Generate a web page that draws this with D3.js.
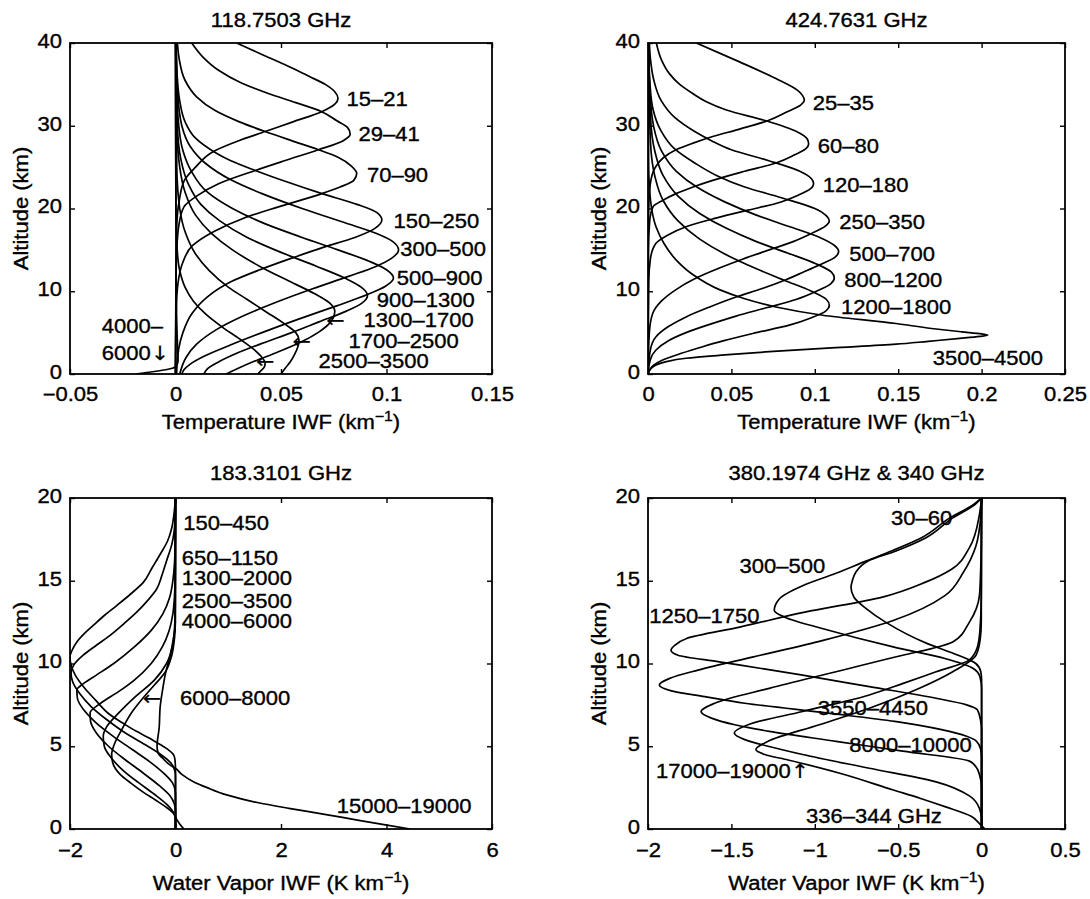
<!DOCTYPE html>
<html>
<head>
<meta charset="utf-8">
<script src="https://cdn.jsdelivr.net/npm/d3@7"></script>
<style>
  body { margin: 0; background: #fff; }
  svg text { font-family: "Liberation Sans", Arial, Helvetica, sans-serif; font-size: 19.5px; fill: #000; stroke: #000; stroke-width: 0.35px; }
  svg text .arrow { font-family: "DejaVu Sans", sans-serif; stroke-width: 0.2px; }
</style>
</head>
<body>
<svg id="fig" width="1090" height="899"></svg>
<script>
// ---------------------------------------------------------------
// Incremental weighting functions, [altitude km, IWF value]
// ---------------------------------------------------------------
const panelTitles = ["118.7503 GHz", "424.7631 GHz", "183.3101 GHz", "380.1974 GHz & 340 GHz"];

const xTicks118 = [-0.05, 0, 0.05, 0.1, 0.15];
const xTicks424 = [0, 0.05, 0.1, 0.15, 0.2, 0.25];
const xTicks183 = [-2, 0, 2, 4, 6];
const xTicks380 = [-2, -1.5, -1, -0.5, 0, 0.5];
const altTicks40 = [0, 10, 20, 30, 40];
const altTicks20 = [0, 5, 10, 15, 20];

// 118.7503 GHz temperature IWF (km^-1)
const t118_15_21 = [[0,0],[14,0.0003],[18,0.0006],[21,0.0018],[23.4,0.0042],[25,0.0095],[26.9,0.018],[28.1,0.029],[29.3,0.0425],[30.5,0.056],[31.7,0.0693],[32.6,0.0755],[33.3,0.077],[34.1,0.0755],[35,0.071],[36,0.063],[37,0.055],[38.5,0.042],[40,0.029]];
const t118_29_41 = [[0,0],[12,0.0003],[15,0.0006],[18,0.0016],[20.2,0.004],[21.5,0.010],[23,0.0204],[24.6,0.0378],[25.8,0.052],[27.1,0.0678],[28.2,0.0795],[29,0.0828],[29.8,0.0815],[30.6,0.0765],[31.7,0.0693],[32.8,0.057],[33.9,0.044],[35.2,0.031],[36.7,0.0204],[38.3,0.013],[40,0.0077]];
const t118_70_90 = [[0,0],[8,0.0004],[11,0.0012],[13.5,0.0035],[15.5,0.008],[17.2,0.018],[18.8,0.032],[20.2,0.0488],[21.8,0.0694],[22.6,0.078],[23.4,0.0845],[24.25,0.0859],[25.1,0.0835],[26.2,0.077],[27.1,0.0678],[28.2,0.055],[29.3,0.0425],[30.5,0.030],[31.8,0.019],[33.5,0.010],[35.5,0.0045],[38,0.0018],[40,0.0009]];
const t118_150_250 = [[0,0.0005],[3,0.0015],[5,0.0035],[7.3,0.0078],[9.3,0.015],[11.2,0.0267],[12.6,0.040],[14,0.0551],[15.3,0.070],[16.5,0.085],[17.6,0.0945],[18.6,0.0978],[19.5,0.0955],[20.5,0.086],[21.8,0.0694],[23.2,0.053],[24.6,0.0378],[25.8,0.026],[26.9,0.018],[28.5,0.0095],[30.5,0.0045],[33,0.002],[36,0.0008],[40,0.0003]];
const t118_300_500 = [[0,0.002],[2,0.005],[3.6,0.010],[5.3,0.019],[7,0.032],[8.7,0.048],[10.3,0.065],[11.8,0.082],[13,0.095],[14,0.1025],[15,0.1057],[16,0.103],[17,0.095],[18.3,0.080],[20,0.060],[21.8,0.041],[23.5,0.026],[25.5,0.014],[27.5,0.007],[30,0.003],[34,0.001],[40,0.0003]];
const t118_500_900 = [[0,0.003],[0.5,0.004],[1.2,0.007],[2.2,0.014],[3.5,0.026],[5,0.041],[6.6,0.058],[8.2,0.076],[9.6,0.091],[10.6,0.0995],[11.6,0.1033],[12.6,0.100],[13.6,0.092],[15,0.077],[16.5,0.060],[18.2,0.042],[20,0.027],[22,0.015],[24.5,0.0075],[27,0.0035],[31,0.0012],[36,0.0004],[40,0.0002]];
const t118_900_1300 = [[0,0.0135],[0.6,0.015],[1.4,0.020],[2.5,0.029],[3.7,0.041],[5,0.055],[6.3,0.068],[7.6,0.081],[8.6,0.0885],[9.5,0.091],[10.5,0.088],[11.5,0.081],[13,0.067],[14.7,0.050],[16.5,0.034],[18.5,0.021],[20.5,0.012],[23,0.006],[26,0.0025],[30,0.0009],[40,0.0002]];
const t118_1300_1700 = [[0,0.024],[0.6,0.029],[1.5,0.037],[2.6,0.048],[3.8,0.059],[5,0.0675],[6,0.0725],[6.8,0.0748],[7.6,0.0755],[8.6,0.073],[9.7,0.066],[11.2,0.054],[13,0.040],[15,0.027],[17,0.017],[19.2,0.0095],[22,0.0045],[25,0.002],[30,0.0006],[40,0.0001]];
const t118_1700_2500 = [[0,0.050],[0.7,0.052],[1.5,0.0545],[2.4,0.0565],[3.3,0.058],[4.1,0.0585],[5,0.057],[6,0.052],[7.5,0.043],[9,0.034],[10.5,0.025],[12.5,0.016],[14.5,0.0095],[17,0.0048],[20,0.002],[25,0.0006],[40,0.0001]];
const t118_2500_3500 = [[0,0.039],[0.4,0.0405],[0.8,0.042],[1.3,0.0425],[2,0.041],[3,0.037],[4.3,0.030],[5.7,0.022],[7.2,0.0145],[8.8,0.0085],[10.5,0.0045],[12.5,0.002],[15,0.0008],[20,0.0002],[40,0]];
const t118_4000_6000 = [[0,-0.019],[0.3,-0.010],[0.6,-0.003],[0.9,0],[1.5,0.0012],[3,0.001],[10,0.0003],[40,0]];

// 424.7631 GHz temperature IWF (km^-1)
const t424_25_35 = [[0,0],[15,0.0001],[21,0.0006],[23.5,0.0018],[25.1,0.0048],[26.1,0.009],[27.1,0.0168],[27.9,0.027],[28.7,0.0388],[29.6,0.055],[30.6,0.0717],[31.7,0.0835],[32.5,0.0915],[33.1,0.0937],[33.7,0.0925],[34.3,0.0895],[35.7,0.0767],[37.9,0.0528],[40,0.029]];
const t424_60_80 = [[0,0],[15,0.0003],[18.5,0.001],[20.2,0.003],[21,0.009],[21.8,0.0168],[22.6,0.027],[23.4,0.0388],[24.5,0.058],[25.5,0.0767],[26.5,0.088],[27.2,0.0945],[27.8,0.0963],[28.4,0.0955],[29.3,0.089],[30.6,0.0707],[31.9,0.047],[32.9,0.035],[33.9,0.0268],[35,0.019],[36.3,0.0128],[38,0.008],[40,0.005]];
const t424_120_180 = [[0,0],[11,0.0004],[14,0.0015],[15.8,0.0048],[16.8,0.012],[17.8,0.0228],[18.8,0.040],[19.8,0.060],[20.6,0.0767],[21.6,0.090],[22.4,0.0975],[23,0.0993],[23.6,0.098],[24.5,0.091],[25.8,0.072],[27.1,0.050],[28.2,0.038],[29.3,0.028],[31,0.016],[33,0.008],[35.5,0.0035],[38,0.0015],[40,0.0008]];
const t424_250_350 = [[0,0],[5,0.0008],[7.3,0.0028],[8.8,0.008],[10.2,0.0168],[11.5,0.028],[12.8,0.0428],[13.9,0.057],[15,0.0727],[16,0.087],[16.9,0.097],[17.9,0.1065],[18.5,0.1087],[19.1,0.107],[20,0.100],[21.3,0.080],[22.6,0.058],[24,0.041],[25.5,0.028],[27.2,0.016],[29.5,0.0075],[32,0.003],[35,0.0012],[40,0.0003]];
const t424_500_700 = [[0,0],[3,0.0015],[4.5,0.0048],[5.7,0.012],[6.9,0.0228],[8.1,0.037],[9.3,0.0528],[10.3,0.068],[11.4,0.0827],[12.3,0.093],[13.2,0.103],[14.1,0.112],[14.8,0.1143],[15.5,0.112],[16.5,0.103],[17.8,0.085],[19.2,0.065],[20.8,0.046],[22.5,0.030],[24.5,0.017],[27,0.008],[30,0.0033],[34,0.0012],[40,0.0003]];
const t424_800_1200 = [[0,0],[1.8,0.0015],[2.9,0.0048],[4,0.012],[5,0.0228],[6,0.037],[7,0.0528],[8,0.071],[9,0.0887],[10,0.101],[10.9,0.1095],[11.6,0.1117],[12.3,0.110],[13.3,0.101],[14.6,0.084],[16,0.065],[17.6,0.047],[19.4,0.031],[21.5,0.018],[24,0.009],[27,0.004],[31,0.0015],[40,0.0003]];
const t424_1200_1800 = [[0,0],[0.4,0.0008],[1,0.003],[1.7,0.0088],[2.5,0.020],[3.3,0.0328],[4,0.045],[4.9,0.0628],[5.9,0.0847],[6.8,0.098],[7.6,0.1065],[8.3,0.1087],[9,0.107],[10,0.098],[11.3,0.082],[12.8,0.064],[14.5,0.046],[16.3,0.031],[18.5,0.018],[21,0.009],[24,0.004],[28,0.0015],[40,0.0002]];
const t424_3500_4500 = [[0,0],[0.6,0.0015],[1.1,0.0048],[1.5,0.011],[1.9,0.0228],[2.3,0.046],[2.7,0.0727],[3.15,0.110],[3.6,0.1487],[3.95,0.168],[4.3,0.187],[4.55,0.199],[4.7,0.2037],[4.85,0.200],[5.1,0.188],[5.5,0.170],[6.1,0.1487],[7.1,0.1047],[8.1,0.0767],[9.1,0.058],[10.2,0.0428],[12,0.027],[13.8,0.0168],[15.8,0.0095],[17.8,0.0048],[21,0.0015],[25,0.0004],[40,0]];

// 183.3101 GHz water vapor IWF (K km^-1)
const w183_150_450 = [[0,0],[3.5,0],[4.2,-0.01],[4.5,-0.04],[4.8,-0.14],[5.1,-0.29],[5.5,-0.50],[5.9,-0.74],[6.4,-1.0],[6.9,-1.24],[7.8,-1.52],[8.5,-1.72],[9.3,-1.90],[9.9,-1.98],[10.4,-2.0],[10.8,-1.96],[11.3,-1.87],[11.8,-1.73],[12.3,-1.56],[12.9,-1.35],[13.5,-1.115],[14.2,-0.85],[14.9,-0.61],[15.8,-0.44],[16.6,-0.29],[17.4,-0.15],[18.2,-0.07],[19,-0.03],[19.8,-0.005],[20,0]];
const w183_650_1150 = [[0,0],[3.2,0],[3.6,-0.02],[4,-0.09],[4.5,-0.28],[5.1,-0.58],[5.8,-0.95],[6.6,-1.30],[7.4,-1.60],[8.2,-1.82],[8.9,-1.95],[9.4,-1.98],[9.9,-1.93],[10.5,-1.75],[11.1,-1.50],[11.7,-1.24],[12.4,-0.98],[13.1,-0.736],[13.8,-0.53],[14.5,-0.357],[15.3,-0.26],[16.2,-0.17],[17.2,-0.07],[18,-0.025],[19,-0.005],[20,0]];
const w183_1300_2000 = [[0,0],[2,0],[2.4,-0.01],[2.8,-0.06],[3.3,-0.2],[4,-0.46],[4.8,-0.82],[5.6,-1.18],[6.4,-1.50],[7.2,-1.74],[7.9,-1.86],[8.4,-1.87],[8.8,-1.74],[9.3,-1.50],[10,-1.17],[11,-0.78],[12,-0.46],[13,-0.24],[14,-0.11],[15,-0.05],[16,-0.02],[17.5,-0.005],[20,0]];
const w183_2500_3500 = [[0,0],[1.1,0],[1.5,-0.02],[2,-0.10],[2.6,-0.30],[3.4,-0.62],[4.2,-0.96],[5,-1.27],[5.8,-1.50],[6.5,-1.61],[7,-1.62],[7.6,-1.42],[8.3,-1.08],[9,-0.78],[10,-0.46],[11,-0.25],[12,-0.12],[13,-0.05],[14,-0.02],[15.5,-0.005],[20,0]];
const w183_4000_6000 = [[0,0],[0.6,0],[1,-0.04],[1.5,-0.17],[2.1,-0.40],[2.8,-0.70],[3.5,-0.98],[4.3,-1.22],[5,-1.35],[5.6,-1.37],[6.2,-1.30],[7,-1.08],[8,-0.76],[9,-0.40],[10,-0.17],[11,-0.06],[12,-0.02],[13.5,-0.005],[20,0]];
const w183_6000_8000 = [[0,0.16],[0.3,0.08],[0.6,0.02],[0.95,-0.04],[1.3,-0.17],[1.75,-0.38],[2.2,-0.6],[2.76,-0.84],[3.3,-1.05],[4,-1.19],[4.5,-1.21],[5.2,-1.15],[6,-1.02],[7,-0.84],[7.9,-0.62],[8.7,-0.40],[9.5,-0.19],[10.5,-0.07],[11.5,-0.02],[12.5,-0.003],[20,0]];
const w183_15000_19000 = [[0,4.45],[0.25,3.98],[0.54,3.45],[0.9,2.80],[1.25,2.15],[1.6,1.55],[2.06,0.97],[2.5,0.60],[2.86,0.34],[3.3,0.12],[3.67,0],[3.86,-0.10],[4.2,-0.22],[4.6,-0.33],[5,-0.35],[6.1,-0.31],[7.4,-0.29],[8.5,-0.24],[9.4,-0.19],[10.5,-0.10],[11.5,-0.04],[12.5,-0.005],[20,0]];

// 380.1974 GHz & 340 GHz water vapor IWF (K km^-1)
const w380_30_60 = [[0,0],[9,0],[9.5,-0.005],[10,-0.035],[10.5,-0.14],[11.2,-0.325],[12.5,-0.576],[13.3,-0.69],[14,-0.765],[14.6,-0.783],[15,-0.775],[15.5,-0.755],[16.2,-0.68],[16.8,-0.513],[17.6,-0.333],[18.8,-0.173],[19.6,-0.04],[20,0]];
const w380_300_500 = [[0,0],[8.5,0],[9.2,-0.01],[9.7,-0.05],[10.3,-0.22],[11,-0.53],[12.1,-0.95],[12.8,-1.18],[13.2,-1.243],[13.9,-1.213],[14.7,-1.073],[15.45,-0.873],[16.2,-0.69],[16.8,-0.54],[17.6,-0.36],[18.8,-0.19],[19.6,-0.05],[20,0]];
const w380_1250_1750 = [[0,0],[6,0],[6.5,-0.005],[7.2,-0.025],[7.5,-0.09],[7.9,-0.273],[8.6,-0.673],[9.3,-1.073],[9.7,-1.32],[10.1,-1.573],[10.5,-1.82],[10.8,-1.862],[11.1,-1.84],[11.5,-1.772],[12.2,-1.45],[13.1,-1.06],[14,-0.60],[14.9,-0.34],[15.7,-0.18],[17,-0.073],[19,-0.013],[20,0]];
const w380_3550_4450 = [[0,0],[4.3,0],[4.8,-0.005],[5.3,-0.03],[5.6,-0.09],[6,-0.24],[6.5,-0.52],[7,-0.92],[7.6,-1.42],[8,-1.66],[8.35,-1.86],[8.7,-1.932],[9.1,-1.87],[9.6,-1.70],[10.4,-1.368],[11.4,-0.95],[12.6,-0.53],[14.1,-0.22],[15.5,-0.11],[17.1,-0.034],[19,-0.004],[20,0]];
const w380_8000_10000 = [[0,0],[2.5,0],[3.3,-0.013],[3.7,-0.03],[4.1,-0.073],[4.7,-0.473],[5.3,-0.873],[5.9,-1.273],[6.3,-1.48],[6.7,-1.62],[7.1,-1.682],[7.6,-1.60],[8.5,-1.273],[9.5,-0.873],[10.5,-0.473],[10.9,-0.30],[11.3,-0.173],[12.5,-0.073],[14.1,-0.013],[15.5,-0.006],[17,-0.002],[20,0]];
const w380_17000_19000 = [[0,0],[0.6,0],[1.25,-0.013],[2,-0.073],[2.85,-0.273],[3.67,-0.673],[4.5,-1.073],[5,-1.28],[5.4,-1.42],[5.8,-1.483],[6.3,-1.40],[7.1,-1.073],[8.1,-0.673],[8.8,-0.47],[9.5,-0.273],[10.2,-0.075],[11,-0.025],[12,-0.01],[14,-0.002],[20,0]];
const w340_336_344 = [[0,0.02],[0.3,-0.01],[0.75,-0.06],[1.35,-0.22],[1.86,-0.37],[2.36,-0.53],[3.37,-0.85],[4.17,-1.16],[4.5,-1.30],[4.8,-1.353],[5.3,-1.28],[6.3,-0.973],[7.3,-0.673],[8.5,-0.373],[9.5,-0.173],[10.5,-0.033],[11.5,-0.008],[12.5,-0.002],[20,0]];

// Channel annotations: [text, arrow glyph, IWF value of the text's left edge, altitude of its baseline]
const labels118 = [["15–21","",0.081,32.4],["29–41","",0.0867,28.1],["70–90","",0.0907,23.2],["150–250","",0.1033,17.7],["300–500","",0.1065,14.2],["500–900","",0.1049,10.75],["900–1300","",0.0954,8.05],["1300–1700","",0.0891,5.64],["1700–2500","",0.082,3.1],["2500–3500","",0.0678,0.69],["4000–","",-0.0349,4.92],["6000","↓",-0.0349,1.69],["","←",0.0715,5.64],["","←",0.0555,3.1],["","←",0.0382,0.69]];
const labels424 = [["25–35","",0.0987,31.9],["60–80","",0.1017,26.7],["120–180","",0.1047,22.0],["250–350","",0.1147,17.5],["500–700","",0.1207,13.7],["800–1200","",0.1177,10.5],["1200–1800","",0.1157,7.25],["3500–4500","",0.1707,1.09]];
const labels183 = [["150–450","",0.148,18.07],["650–1150","",0.117,15.95],["1300–2000","",0.117,14.74],["2500–3500","",0.117,13.34],["4000–6000","",0.117,12.13],["6000–8000","",0.085,7.49],["","←",-0.62,7.49],["15000–19000","",3.056,0.95]];
const labels380 = [["30–60","",-0.543,18.37],["300–500","",-1.452,15.45],["1250–1750","",-1.992,12.43],["3550–4450","",-0.983,6.89],["8000–10000","",-0.793,4.63],["17000–19000","↑",-1.952,3.06],["336–344 GHz","",-1.053,0.34]];

const curves118 = [t118_15_21, t118_29_41, t118_70_90, t118_150_250, t118_300_500, t118_500_900, t118_900_1300, t118_1300_1700, t118_1700_2500, t118_2500_3500, t118_4000_6000];
const curves424 = [t424_25_35, t424_60_80, t424_120_180, t424_250_350, t424_500_700, t424_800_1200, t424_1200_1800, t424_3500_4500];
const curves183 = [w183_150_450, w183_650_1150, w183_1300_2000, w183_2500_3500, w183_4000_6000, w183_6000_8000, w183_15000_19000];
const curves380 = [w380_30_60, w380_300_500, w380_1250_1750, w380_3550_4450, w380_8000_10000, w380_17000_19000, w340_336_344];

// ---------------------------------------------------------------
// Layout and drawing
// ---------------------------------------------------------------
const SX = 1.13;            // horizontal glyph stretch of the lettering
const svg = d3.select("#fig");
const fmt = d3.format("");

const panels = [
  { box: [70, 43, 492, 374],   xDom: [-0.05, 0.15], yDom: [0, 40], xTicks: xTicks118, yTicks: altTicks40,
    title: panelTitles[0], xLabel: ["Temperature IWF (km", ")"], curves: curves118, labels: labels118, pad: 13, titleGap: 16, labelGap: 55 },
  { box: [648, 43, 1065, 374], xDom: [0, 0.25],     yDom: [0, 40], xTicks: xTicks424, yTicks: altTicks40,
    title: panelTitles[1], xLabel: ["Temperature IWF (km", ")"], curves: curves424, labels: labels424, pad: 13, titleGap: 16, labelGap: 55 },
  { box: [70, 498, 492, 829],  xDom: [-2, 6],       yDom: [0, 20], xTicks: xTicks183, yTicks: altTicks20,
    title: panelTitles[2], xLabel: ["Water Vapor IWF (K km", ")"], curves: curves183, labels: labels183, pad: 14, titleGap: 18, labelGap: 61 },
  { box: [648, 498, 1065, 829], xDom: [-2, 0.5],    yDom: [0, 20], xTicks: xTicks380, yTicks: altTicks20,
    title: panelTitles[3], xLabel: ["Water Vapor IWF (K km", ")"], curves: curves380, labels: labels380, pad: 14, titleGap: 18, labelGap: 61 }
];

function stretchedText(parent, x, y, str, anchor, rot) {
  return parent.append("text")
    .attr("transform", `translate(${x},${y})` + (rot ? ` rotate(${rot})` : "") + ` scale(${SX},1)`)
    .attr("text-anchor", anchor)
    .text(str);
}

panels.forEach((p, i) => {
  const [l, t, r, b] = p.box;
  const x = d3.scaleLinear().domain(p.xDom).range([l, r]);
  const y = d3.scaleLinear().domain(p.yDom).range([b, t]);
  const g = svg.append("g");

  const clipId = "plotclip" + i;
  g.append("clipPath").attr("id", clipId)
    .append("rect").attr("x", l).attr("y", t).attr("width", r - l).attr("height", b - t);

  // weighting-function curves, traced from the top of the column downward
  const line = d3.line()
    .x(d => x(d[1]))
    .y(d => y(d[0]))
    .curve(d3.curveMonotoneY);

  g.append("g").attr("clip-path", `url(#${clipId})`)
    .selectAll("path")
    .data(p.curves)
    .join("path")
    .attr("d", d => line(d.slice().sort((a, c) => c[0] - a[0])))
    .attr("fill", "none")
    .attr("stroke", "#000")
    .attr("stroke-width", 1.7)
    .attr("stroke-linejoin", "round");

  // axes with inward ticks on all four sides
  const styleAxis = a => {
    a.select(".domain").remove();
    a.attr("font-size", null).attr("font-family", null);
    a.selectAll(".tick line").attr("stroke-width", 1.4);
    a.selectAll("text").attr("transform", `scale(${SX},1)`);
  };
  g.append("g").attr("transform", `translate(0,${b})`)
    .call(d3.axisBottom(x).tickValues(p.xTicks).tickSizeInner(-5).tickSizeOuter(0).tickPadding(p.pad).tickFormat(fmt))
    .call(styleAxis);
  g.append("g").attr("transform", `translate(0,${t})`)
    .call(d3.axisTop(x).tickValues(p.xTicks).tickSizeInner(-5).tickSizeOuter(0).tickFormat(() => ""))
    .call(styleAxis);
  g.append("g").attr("transform", `translate(${l},0)`)
    .call(d3.axisLeft(y).tickValues(p.yTicks).tickSizeInner(-5).tickSizeOuter(0).tickPadding(7).tickFormat(fmt))
    .call(styleAxis)
    .call(a => a.selectAll("text").attr("dy", "0.22em"));
  g.append("g").attr("transform", `translate(${r},0)`)
    .call(d3.axisRight(y).tickValues(p.yTicks).tickSizeInner(-5).tickSizeOuter(0).tickFormat(() => ""))
    .call(styleAxis);

  g.append("rect")
    .attr("x", l).attr("y", t).attr("width", r - l).attr("height", b - t)
    .attr("fill", "none").attr("stroke", "#000").attr("stroke-width", 1.8);

  // channel annotations (arrow glyphs set in a font with full-size arrows)
  p.labels.forEach(([txt, arrow, vx, alt]) => {
    const el = stretchedText(g, x(vx), y(alt), "", "start");
    if (txt) el.append("tspan").text(txt);
    if (arrow) el.append("tspan").attr("class", "arrow").text(arrow);
  });

  // title and axis labels
  stretchedText(g, (l + r) / 2, t - p.titleGap, p.title, "middle");

  const xl = stretchedText(g, (l + r) / 2, b + p.labelGap, "", "middle");
  xl.append("tspan").text(p.xLabel[0]);
  xl.append("tspan").attr("dy", -8).attr("font-size", 14).text("−1");
  xl.append("tspan").attr("dy", 8).text(p.xLabel[1]);

  stretchedText(g, l - 42, (t + b) / 2, "Altitude (km)", "middle", -90);
});
</script>
</body>
</html>
